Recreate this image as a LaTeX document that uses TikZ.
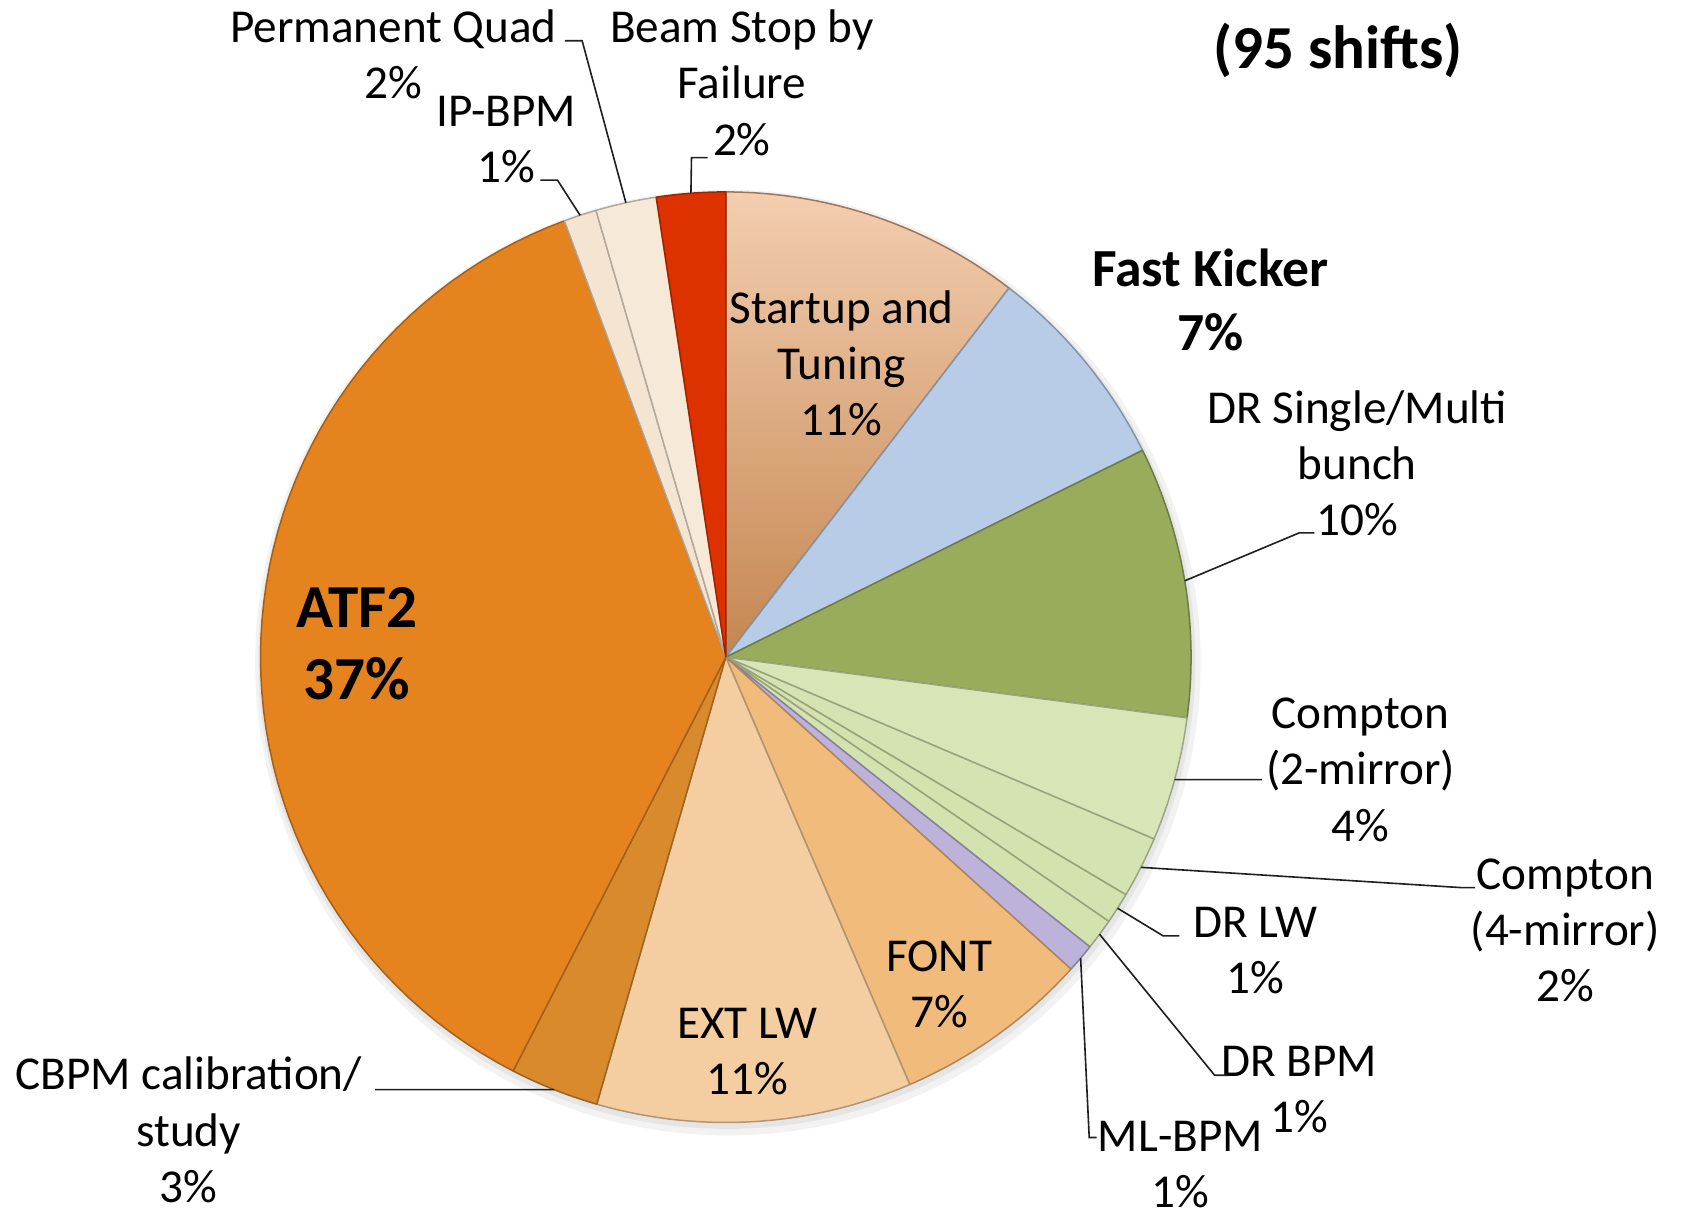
\documentclass[tikz,border=0pt]{standalone}
\usepackage{fontspec}
\setmainfont{Carlito}
\definecolor{cStartTop}{HTML}{F3CEB0}
\definecolor{cStartBot}{HTML}{C48650}
\definecolor{cStart}{HTML}{DCA47A}
\definecolor{cFK}{HTML}{B8CCE8}
\definecolor{cDRS}{HTML}{98AC5C}
\definecolor{cCa}{HTML}{D8E6B7}
\definecolor{cCb}{HTML}{D5E3B2}
\definecolor{cDRLW}{HTML}{D3E2AE}
\definecolor{cDRBPM}{HTML}{D3E2AE}
\definecolor{cML}{HTML}{BDB3DA}
\definecolor{cFONT}{HTML}{F1BB7C}
\definecolor{cEXT}{HTML}{F4CEA0}
\definecolor{cCBPM}{HTML}{D88A2C}
\definecolor{cATF}{HTML}{E5841F}
\definecolor{cIP}{HTML}{F4E5D2}
\definecolor{cPQ}{HTML}{F7E9D8}
\definecolor{cBS}{HTML}{DD3100}
\newcommand\mkslice[3]{%
  \filldraw[fill=#3, draw=#3!72!black, line width=1.4pt, line join=round]
    (pc) -- plot[domain=#1:#2, samples=60] ({677+434*cos(\x)},{613-434*sin(\x)}) -- cycle;}
\begin{document}
\begin{tikzpicture}[x=1pt,y=-1pt,
  lbl/.style={align=center, inner sep=0pt, font=\fontsize{44}{52.5}\selectfont},
  lblfk/.style={align=center, inner sep=0pt, font=\fontsize{50}{60}\selectfont\bfseries},
  lblbig/.style={align=center, inner sep=0pt, font=\fontsize{57}{67}\selectfont\bfseries},
  leader/.style={draw=black!88, line width=1.5pt, line join=miter},
  ]
\useasboundingbox (0,0) rectangle (1568,1138);
\fill[white] (0,0) rectangle (1568,1138);
\coordinate (pc) at (677,613);
% soft shadow
\fill[black, opacity=0.05] (679,618) circle (441);
\fill[black, opacity=0.05] (678,616) circle (437);
% slices (clockwise from 12 o'clock)
\shade[top color=cStartTop, bottom color=cStartBot]
  (pc) -- plot[domain=90:52.5, samples=60] ({677+434*cos(\x)},{613-434*sin(\x)}) -- cycle;
\draw[draw=cStart!72!black, line width=1.4pt, line join=round]
  (pc) -- plot[domain=90:52.5, samples=60] ({677+434*cos(\x)},{613-434*sin(\x)}) -- cycle;
\mkslice{52.5}{26.4}{cFK}
\mkslice{26.4}{-7.5}{cDRS}
\mkslice{-7.5}{-23.0}{cCa}
\mkslice{-23.0}{-30.7}{cCb}
\mkslice{-30.7}{-34.6}{cDRLW}
\mkslice{-34.6}{-38.5}{cDRBPM}
\mkslice{-38.5}{-42.1}{cML}
\mkslice{-42.1}{-66.7}{cFONT}
\mkslice{-66.7}{-106.1}{cEXT}
\mkslice{-106.1}{-117.2}{cCBPM}
\mkslice{242.8}{110.3}{cATF}
\mkslice{110.3}{106.2}{cIP}
\mkslice{106.2}{98.6}{cPQ}
\mkslice{98.6}{90}{cBS}

% rim points for leaders
\coordinate (rPQ) at ({677+434*cos(102.4)},{613-434*sin(102.4)});
\coordinate (rIP) at ({677+434*cos(108.25)},{613-434*sin(108.25)});
\coordinate (rBS) at ({677+434*cos(94.3)},{613-434*sin(94.3)});
\coordinate (rDRS) at ({677+434*cos(9.45)},{613-434*sin(9.45)});
\coordinate (rCa) at ({677+434*cos(-15.25)},{613-434*sin(-15.25)});
\coordinate (rCb) at ({677+434*cos(-26.85)},{613-434*sin(-26.85)});
\coordinate (rDRLW) at ({677+434*cos(-32.65)},{613-434*sin(-32.65)});
\coordinate (rDRBPM) at ({677+434*cos(-36.55)},{613-434*sin(-36.55)});
\coordinate (rML) at ({677+434*cos(-40.3)},{613-434*sin(-40.3)});
\coordinate (rCB) at ({677+434*cos(-111.65)},{613-434*sin(-111.65)});

% labels
\node[lblbig] (title) at (1248,47) {(95 shifts)};
\node[lbl] (pq) at (367,50.5) {Permanent Quad\\2\%};
\node[lbl] (ip) at (472,130.5) {IP-BPM\\1\%};
\node[lbl] (bs) at (692,77) {Beam Stop by\\Failure\\2\%};
\node[lbl] (st) at (785,339) {Startup and\\Tuning\\11\%};
\node[lblfk] (fk) at (1129,280) {Fast Kicker\\7\%};
\node[lbl] (drs) at (1266,432) {DR Single/Multi\\bunch\\10\%};
\node[lbl] (ca) at (1269,718) {Compton\\(2-mirror)\\4\%};
\node[lbl] (cb) at (1460,868) {Compton\\(4-mirror)\\2\%};
\node[lbl] (drlw) at (1171,886.5) {DR LW\\1\%};
\node[lbl] (drbpm) at (1212,1016.5) {DR BPM\\1\%};
\node[lbl] (ml) at (1101,1086) {ML-BPM\\1\%};
\node[lbl] (font) at (876,918.5) {FONT\\7\%};
\node[lbl] (ext) at (697,981) {EXT LW\\11\%};
\node[lbl] (cbpm) at (176,1054) {CBPM calibration/\\study\\3\%};
\node[lblbig] (atf) at (333,600.5) {ATF2\\37\%};

% leader bend points
\coordinate (pqA) at (543,38);   \coordinate (pqB) at (527,38);
\coordinate (ipA) at (520,168);  \coordinate (ipB) at (504,168);
\coordinate (bsA) at (645,147);  \coordinate (bsB) at (660,147);
\coordinate (drsA) at (1212,497);\coordinate (drsB) at (1226,497);
\coordinate (caA) at (1177,727.2);
\coordinate (cbA) at (1364,828); \coordinate (cbB) at (1376,828);
\coordinate (drlwA) at (1085,873); \coordinate (drlwB) at (1100,873);
\coordinate (drbpmA) at (1133,1003); \coordinate (drbpmB) at (1146,1003);
\coordinate (mlA) at (1016,1061); \coordinate (mlB) at (1023,1061);
\coordinate (cbpmA) at (350,1016.4);

\draw[leader] (rPQ) -- (pqA) -- (pqB);
\draw[leader] (rIP) -- (ipA) -- (ipB);
\draw[leader] (rBS) -- (bsA) -- (bsB);
\draw[leader] (rDRS) -- (drsA) -- (drsB);
\draw[leader] (rCa) -- (caA);
\draw[leader] (rCb) -- (cbA) -- (cbB);
\draw[leader] (rDRLW) -- (drlwA) -- (drlwB);
\draw[leader] (rDRBPM) -- (drbpmA) -- (drbpmB);
\draw[leader] (rML) -- (mlA) -- (mlB);
\draw[leader] (rCB) -- (cbpmA);
\end{tikzpicture}
\end{document}
